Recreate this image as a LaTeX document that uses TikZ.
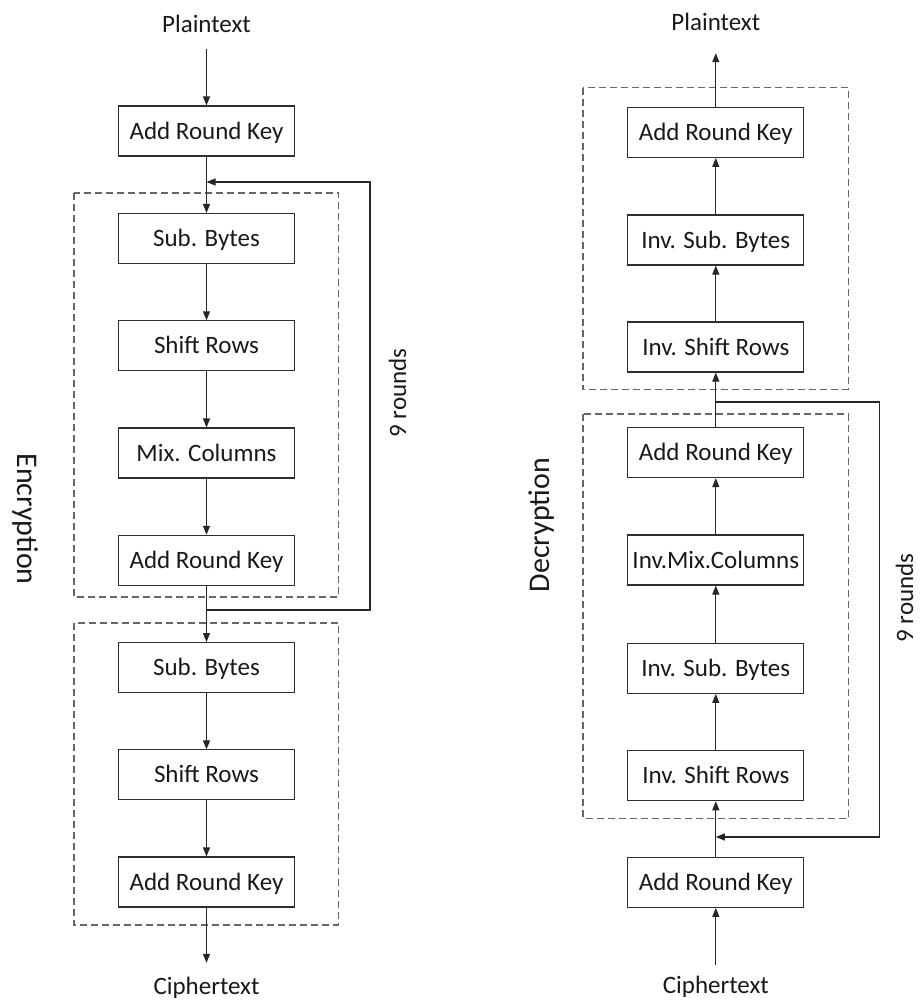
\documentclass[tikz,border=0pt]{standalone}
\usepackage{fontspec}
\setmainfont{Carlito}
\usetikzlibrary{arrows.meta}
\begin{document}
\begin{tikzpicture}[x=1pt,y=-1pt,
  stage/.style={draw=black!82, line width=1.1pt, minimum width=176pt, minimum height=50pt,
    inner sep=0pt, text height=16pt, text depth=0pt, font=\fontsize{25}{30}\selectfont, text=black!90},
  lbl/.style={inner sep=0pt, text height=16pt, text depth=0pt,
    font=\fontsize{25}{30}\selectfont, text=black!90},
  big/.style={inner sep=0pt, text height=19pt, text depth=0pt,
    font=\fontsize{30}{36}\selectfont, text=black!90},
  arr/.style={draw=black!85, line width=1.1pt, -{Triangle[length=9pt,width=7pt]}},
  group/.style={draw=black!60, line width=1.1pt, dash pattern=on 7pt off 4pt},
]
\useasboundingbox (0,0) rectangle (920,1002);

% ---------------- Encryption ----------------
\draw[group] (74,193) rectangle (338.3,597);
\draw[group] (74,623) rectangle (338.3,925);

\node[lbl] (ePlain)  at (206.5,24)  {Plaintext};
\node[lbl] (eCipher) at (206.5,986) {Ciphertext};

\node[stage] (eA)  at (206.5,131)   {Add Round Key};
\node[stage] (eS1) at (206.5,238.5) {Sub. Bytes};
\node[stage] (eR1) at (206.5,345.8) {Shift Rows};
\node[stage] (eM)  at (206.5,453)   {Mix. Columns};
\node[stage] (eK1) at (206.5,560.3) {Add Round Key};
\node[stage] (eS2) at (206.5,667.6) {Sub. Bytes};
\node[stage] (eR2) at (206.5,774.9) {Shift Rows};
\node[stage] (eK2) at (206.5,882)   {Add Round Key};

\draw[arr, shorten <=17pt] (ePlain) -- (eA);
\draw[arr] (eA) -- (eS1);
\draw[arr] (eS1) -- (eR1);
\draw[arr] (eR1) -- (eM);
\draw[arr] (eM) -- (eK1);
\draw[arr] (eK1) -- (eS2);
\draw[arr] (eS2) -- (eR2);
\draw[arr] (eR2) -- (eK2);
\draw[arr, shorten >=15pt] (eK2) -- (eCipher);

% loop back for the repeated rounds
\coordinate (eOut) at (206.5,610);
\coordinate (eTurnA) at (370,610);
\coordinate (eTurnB) at (370,182);
\coordinate (eIn) at (206.5,182);
\draw[arr] (eOut) -- (eTurnA) -- (eTurnB) -- (eIn);

\node[big, rotate=-90] (encLbl) at (27,519) {Encryption};
\node[lbl, rotate=90] (eRounds) at (398,393) {9 rounds};

% ---------------- Decryption ----------------
\draw[group] (583,87.5) rectangle (848.3,389.3);
\draw[group] (583,414) rectangle (848.3,818.3);

\node[lbl] (dPlain)  at (715.8,22.5) {Plaintext};
\node[lbl] (dCipher) at (715.8,985)  {Ciphertext};

\node[stage] (dK0) at (715.8,132.3) {Add Round Key};
\node[stage] (dS0) at (715.8,240)   {Inv. Sub. Bytes};
\node[stage] (dR0) at (715.8,347)   {Inv. Shift Rows};
\node[stage] (dK1) at (715.8,452.5) {Add Round Key};
\node[stage] (dM)  at (715.8,560)   {Inv.Mix.Columns};
\node[stage] (dS1) at (715.8,668.3) {Inv. Sub. Bytes};
\node[stage] (dR1) at (715.8,775.7) {Inv. Shift Rows};
\node[stage] (dK2) at (715.8,882.3) {Add Round Key};

\draw[arr, shorten <=12pt] (dCipher) -- (dK2);
\draw[arr] (dK2) -- (dR1);
\draw[arr] (dR1) -- (dS1);
\draw[arr] (dS1) -- (dM);
\draw[arr] (dM) -- (dK1);
\draw[arr] (dK1) -- (dR0);
\draw[arr] (dR0) -- (dS0);
\draw[arr] (dS0) -- (dK0);
\draw[arr, shorten >=22.5pt] (dK0) -- (dPlain);

% loop back for the repeated rounds
\coordinate (dOut) at (715.8,402);
\coordinate (dTurnA) at (879.3,402);
\coordinate (dTurnB) at (879.3,837);
\coordinate (dIn) at (715.8,837);
\draw[arr] (dOut) -- (dTurnA) -- (dTurnB) -- (dIn);

\node[big, rotate=90] (decLbl) at (540,525) {Decryption};
\node[lbl, rotate=90] (dRounds) at (905,598) {9 rounds};
\end{tikzpicture}
\end{document}
